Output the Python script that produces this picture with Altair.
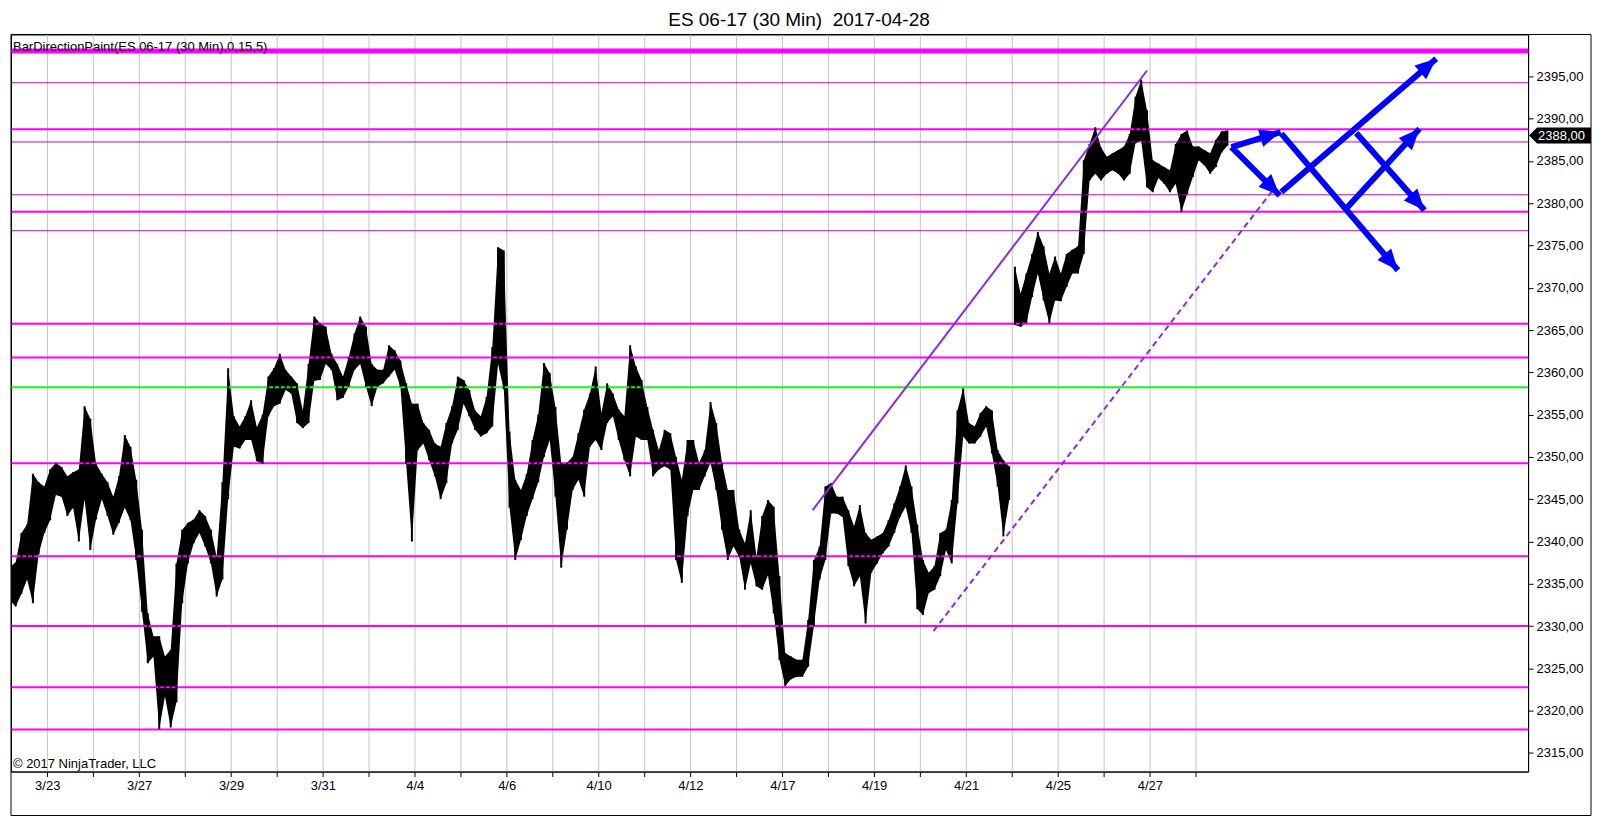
import math
import altair as alt
import pandas as pd

FONT = "Liberation Sans"

TITLE = "ES 06-17 (30 Min)\u00a0 2017-04-28"
INDICATOR = "BarDirectionPaint(ES 06-17 (30 Min),0,15,5)"
COPYRIGHT = "\u00a9 2017 NinjaTrader, LLC"

# trading sessions (3/22 is the partial first one, left of the first tick)
SESSIONS = ["3/22", "3/23", "3/24", "3/27", "3/28", "3/29", "3/30", "3/31", "4/3",
            "4/4", "4/5", "4/6", "4/7", "4/10", "4/11", "4/12", "4/13", "4/17",
            "4/18", "4/19", "4/20", "4/21", "4/24", "4/25", "4/26", "4/27", "4/28"]
FIRST_SLOT = [1] + [0] * 26
SLOTS_PER_SESSION = 8

HIGHS = [
    [2337.0, 2337.5, 2341.0, 2342.0, 2348.0, 2347.0, 2346.5],
    [2348.5, 2349.3, 2348.8, 2347.7, 2348.2, 2348.5, 2356.0, 2354.5],
    [2349.2, 2348.0, 2347.0, 2345.3, 2347.7, 2352.6, 2351.2, 2347.3],
    [2341.4, 2331.5, 2328.8, 2328.8, 2326.4, 2327.2, 2337.4, 2341.4],
    [2342.2, 2342.6, 2343.7, 2343.0, 2341.4, 2338.2, 2347.0, 2360.5],
    [2354.8, 2353.6, 2354.8, 2356.7, 2353.5, 2355.0, 2359.5, 2360.5],
    [2362.2, 2360.3, 2359.5, 2358.7, 2355.5, 2361.0, 2366.6, 2365.8],
    [2365.4, 2362.2, 2361.0, 2359.5, 2361.8, 2364.6, 2366.6, 2365.4],
    [2361.0, 2360.3, 2360.3, 2363.2, 2362.6, 2361.4, 2358.7, 2356.3],
    [2356.3, 2354.0, 2353.2, 2351.6, 2351.2, 2354.0, 2356.0, 2359.5],
    [2359.1, 2357.9, 2355.5, 2354.8, 2357.1, 2363.0, 2374.8, 2374.4],
    [2353.0, 2347.3, 2346.1, 2348.0, 2352.0, 2355.0, 2361.1, 2359.9],
    [2355.9, 2349.3, 2349.3, 2350.0, 2352.8, 2355.6, 2357.5, 2360.7],
    [2355.2, 2358.7, 2357.5, 2355.6, 2354.8, 2363.2, 2360.7, 2359.1],
    [2355.9, 2353.2, 2350.8, 2353.2, 2352.8, 2350.0, 2347.3, 2352.0],
    [2352.0, 2349.3, 2350.8, 2356.5, 2354.0, 2349.3, 2346.1, 2346.1],
    [2341.4, 2339.8, 2343.7, 2338.2, 2343.0, 2344.9, 2344.1, 2335.9],
    [2326.8, 2326.4, 2326.0, 2326.0, 2330.7, 2337.8, 2339.4, 2346.5],
    [2346.9, 2345.3, 2345.3, 2343.7, 2341.8, 2344.3, 2341.0, 2340.2],
    [2340.6, 2341.0, 2342.5, 2344.5, 2346.5, 2349.0, 2346.5, 2342.0],
    [2337.8, 2336.3, 2337.1, 2341.0, 2341.4, 2344.9, 2355.5, 2358.1],
    [2354.0, 2353.6, 2355.2, 2356.0, 2355.5, 2350.8, 2349.6, 2348.9],
    [2372.5, 2369.3, 2371.7, 2374.0, 2376.6, 2374.9, 2371.7, 2373.7],
    [2371.7, 2374.0, 2374.5, 2374.9, 2385.1, 2387.0, 2389.0, 2386.6],
    [2385.5, 2385.9, 2386.3, 2386.7, 2388.2, 2392.6, 2394.6, 2391.0],
    [2385.1, 2384.7, 2384.3, 2383.9, 2387.0, 2388.2, 2388.6, 2386.7],
    [2386.7, 2386.3, 2385.9, 2387.5, 2388.5, 2388.6],
]
LOWS = [
    [2333.0, 2332.3, 2333.8, 2335.5, 2332.7, 2338.5, 2341.0],
    [2342.5, 2345.5, 2345.3, 2343.0, 2344.0, 2340.0, 2345.0, 2339.0],
    [2342.6, 2345.0, 2343.0, 2340.8, 2342.2, 2344.0, 2342.5, 2337.8],
    [2331.7, 2325.6, 2326.4, 2317.8, 2321.7, 2318.0, 2321.0, 2332.7],
    [2337.4, 2339.8, 2341.0, 2339.4, 2337.4, 2333.5, 2335.5, 2345.0],
    [2351.2, 2351.0, 2352.0, 2352.0, 2349.5, 2349.2, 2354.8, 2356.0],
    [2356.3, 2357.9, 2357.5, 2354.0, 2353.4, 2354.0, 2359.0, 2359.1],
    [2361.0, 2360.3, 2356.7, 2357.0, 2358.3, 2360.3, 2361.0, 2358.3],
    [2356.0, 2358.3, 2358.7, 2359.5, 2360.3, 2358.3, 2349.2, 2340.0],
    [2350.8, 2351.6, 2349.6, 2347.7, 2345.0, 2346.9, 2351.6, 2353.2],
    [2356.3, 2354.8, 2353.2, 2352.4, 2352.8, 2353.6, 2361.0, 2358.0],
    [2344.0, 2337.8, 2340.2, 2343.0, 2345.0, 2347.0, 2350.0, 2352.0],
    [2345.3, 2336.9, 2341.4, 2346.1, 2347.3, 2345.3, 2351.2, 2352.0],
    [2350.8, 2354.0, 2354.8, 2352.0, 2349.6, 2347.7, 2352.4, 2352.0],
    [2352.0, 2347.7, 2348.5, 2348.9, 2348.5, 2337.8, 2335.1, 2343.0],
    [2346.1, 2346.1, 2347.7, 2349.3, 2346.1, 2341.4, 2337.8, 2339.4],
    [2338.2, 2334.3, 2337.4, 2334.7, 2334.3, 2336.0, 2331.5, 2326.0],
    [2322.9, 2323.7, 2324.0, 2324.0, 2325.2, 2330.0, 2335.5, 2337.8],
    [2343.3, 2343.3, 2342.9, 2337.1, 2334.7, 2335.9, 2330.3, 2336.3],
    [2337.4, 2338.6, 2339.4, 2341.0, 2342.9, 2344.1, 2341.0, 2332.0],
    [2331.3, 2333.9, 2334.3, 2335.9, 2339.0, 2337.4, 2344.5, 2352.4],
    [2351.6, 2351.6, 2352.4, 2353.6, 2350.4, 2346.5, 2340.6, 2344.9],
    [2365.6, 2365.4, 2365.8, 2368.9, 2371.7, 2368.5, 2365.8, 2368.5],
    [2368.4, 2370.1, 2371.7, 2371.7, 2374.0, 2382.7, 2383.5, 2382.7],
    [2383.5, 2383.9, 2383.5, 2382.7, 2383.5, 2387.1, 2387.4, 2381.9],
    [2381.3, 2383.0, 2382.3, 2381.3, 2382.3, 2379.0, 2381.1, 2383.1],
    [2385.1, 2384.5, 2383.5, 2384.3, 2386.0, 2386.8],
]
GAP_SESSION = "4/24"

TICK_LABELS = ["3/23", "", "3/27", "", "3/29", "", "3/31", "", "4/4", "", "4/6", "",
               "4/10", "", "4/12", "", "4/17", "", "4/19", "", "4/21", "", "4/25", "",
               "4/27", ""]
PRICE_TICKS = list(range(2315, 2400, 5))

LEVELS_HEAVY = [2398.0]
LEVELS_MAIN = [2388.75, 2379.0, 2365.75, 2361.75, 2349.25, 2338.25, 2330.0, 2322.75, 2317.75]
LEVELS_MINOR = [2394.25, 2387.25, 2381.0, 2376.75]
LEVEL_GREEN = [2358.25]
LAST_PRICE = 2388.0

TREND_SOLID_X = [16.66, 23.94]
TREND_SOLID_Y = [2343.7, 2395.7]
TREND_DASH_X = [19.29, 26.67]
TREND_DASH_Y = [2329.4, 2381.5]

ARROW_X0 = [25.776, 25.776, 26.863, 26.863, 28.493, 28.276]
ARROW_Y0 = [2386.65, 2386.65, 2388.23, 2381.33, 2388.30, 2379.37]
ARROW_X1 = [26.848, 26.826, 29.400, 30.233, 29.978, 29.870]
ARROW_Y1 = [2388.42, 2380.94, 2372.08, 2397.09, 2379.17, 2388.82]

# ---------------- layout ----------------
PLOT_W, PLOT_H = 1519, 738
X_MIN, X_MAX = -0.789, 32.233
Y_MIN, Y_MAX = 2312.79, 2399.96
PX_DAY = PLOT_W / (X_MAX - X_MIN)
PX_PT = PLOT_H / (Y_MAX - Y_MIN)

# ---------------- tables ----------------
rows = []
seg = 0
for d, (sess, off, hs, ls) in enumerate(zip(SESSIONS, FIRST_SLOT, HIGHS, LOWS)):
    k = d - 1
    if sess == GAP_SESSION:
        seg += 1
    for i, (h, l) in enumerate(zip(hs, ls)):
        rows.append({"pos": k + (off + i + 0.5) / SLOTS_PER_SESSION,
                     "high": h, "low": l, "seg": seg})
bars = pd.DataFrame(rows)

arrows = pd.DataFrame({"x0": ARROW_X0, "y0": ARROW_Y0, "x1": ARROW_X1, "y1": ARROW_Y1})
arrows["ang"] = [
    math.degrees(math.atan2(-(b - a) * PX_PT, (d - c) * PX_DAY)) % 360
    for a, b, c, d in zip(arrows.y0, arrows.y1, arrows.x0, arrows.x1)
]

xs = alt.Scale(domain=[X_MIN, X_MAX], nice=False, zero=False)
ys = alt.Scale(domain=[Y_MIN, Y_MAX], nice=False, zero=False)

label_expr = "[" + ",".join("'%s'" % t for t in TICK_LABELS) + "][datum.value]"
x_axis = alt.Axis(values=list(range(len(TICK_LABELS))), labelExpr=label_expr, grid=True,
                  gridColor="#c4c4c4", gridWidth=1, tickSize=5, tickColor="black",
                  domainColor="black", labelColor="black", labelFont=FONT, labelFontSize=13,
                  labelPadding=3, labelAngle=0, labelOverlap=False, labelFlush=False, title=None)
y_axis = alt.Axis(orient="right", values=PRICE_TICKS,
                  labelExpr="replace(format(datum.value, '.2f'), '.', ',')",
                  grid=False, tickSize=5, tickColor="black", domainColor="black",
                  labelColor="black", labelFont=FONT, labelFontSize=13, labelPadding=3,
                  labelOverlap=False, labelFlush=False, title=None)


def X(field):
    return alt.X(field, scale=xs, axis=x_axis)


def Y(field):
    return alt.Y(field, scale=ys, axis=y_axis)


price_area = alt.Chart(bars).mark_area(color="black", clip=True).encode(
    x=X("pos:Q"), y=Y("low:Q"), y2="high:Q", detail="seg:N")
price_rules = alt.Chart(bars).mark_rule(color="black", strokeWidth=2, clip=True).encode(
    x=X("pos:Q"), y=Y("low:Q"), y2="high:Q")


def level_layer(vals, color, width):
    return alt.Chart(pd.DataFrame({"price": vals})).mark_rule(
        color=color, strokeWidth=width).encode(y=Y("price:Q"))


levels = [
    level_layer(LEVELS_MINOR, "#c000c0", 1),
    level_layer(LEVELS_MAIN, "#ff00ff", 2),
    level_layer(LEVELS_HEAVY, "#ff00ff", 5),
    level_layer(LEVEL_GREEN, "#22ee22", 2),
]


def seg_df(xv, yv):
    return pd.DataFrame({"x0": [xv[0]], "x1": [xv[1]], "y0": [yv[0]], "y1": [yv[1]]})


trend_solid = alt.Chart(seg_df(TREND_SOLID_X, TREND_SOLID_Y)).mark_rule(
    color="#8a2be2", strokeWidth=2).encode(x=X("x0:Q"), x2="x1:Q", y=Y("y0:Q"), y2="y1:Q")
trend_dash = alt.Chart(seg_df(TREND_DASH_X, TREND_DASH_Y)).mark_rule(
    color="#8a2be2", strokeWidth=2, strokeDash=[6, 4]).encode(
    x=X("x0:Q"), x2="x1:Q", y=Y("y0:Q"), y2="y1:Q")

arrow_shafts = alt.Chart(arrows).mark_rule(color="#0000ff", strokeWidth=6).encode(
    x=X("x0:Q"), x2="x1:Q", y=Y("y0:Q"), y2="y1:Q")
arrow_heads = alt.Chart(arrows).mark_point(
    shape="M0,0 L-21,-9 L-21,9 Z", size=4, filled=True, color="#0000ff", opacity=1
).encode(x=X("x1:Q"), y=Y("y1:Q"), angle=alt.Angle("ang:Q", scale=None))

last_df = pd.DataFrame({"price": [LAST_PRICE],
                        "label": [("%.2f" % LAST_PRICE).replace(".", ",")]})
last_tag = alt.Chart(last_df).mark_point(
    shape="M0,0 L8,-8 L62,-8 L62,8 L8,8 Z", size=4, filled=True, color="black", opacity=1
).encode(x=alt.value(PLOT_W + 1), y=Y("price:Q"))
last_text = alt.Chart(last_df).mark_text(
    color="white", align="left", baseline="middle", font=FONT, fontSize=13
).encode(x=alt.value(PLOT_W + 10), y=Y("price:Q"), text="label:N")

title_txt = alt.Chart(pd.DataFrame({"t": [TITLE]})).mark_text(
    align="center", baseline="middle", font=FONT, fontSize=19, color="black"
).encode(x=alt.value(789), y=alt.value(-14), text="t:N")
ind_txt = alt.Chart(pd.DataFrame({"t": [INDICATOR]})).mark_text(
    align="left", baseline="middle", font=FONT, fontSize=13, color="black"
).encode(x=alt.value(2), y=alt.value(13), text="t:N")
copy_txt = alt.Chart(pd.DataFrame({"t": [COPYRIGHT]})).mark_text(
    align="left", baseline="middle", font=FONT, fontSize=13, color="black"
).encode(x=alt.value(2), y=alt.value(730), text="t:N")

frame = alt.Chart(pd.DataFrame({"a": [0]})).mark_rect(
    fillOpacity=0, stroke="black", strokeWidth=1
).encode(x=alt.value(0), x2=alt.value(1582), y=alt.value(0), y2=alt.value(782))

chart = alt.layer(
    price_area, *levels, price_rules, trend_solid, trend_dash,
    arrow_shafts, arrow_heads, last_tag, last_text, title_txt, ind_txt, copy_txt, frame
).properties(
    width=PLOT_W, height=PLOT_H, background="white",
    padding={"top": 3, "left": 0, "right": 0, "bottom": 0},
).configure_view(stroke="black", strokeWidth=1)

chart.save("out.html", embed_options={"renderer": "svg", "actions": False})
